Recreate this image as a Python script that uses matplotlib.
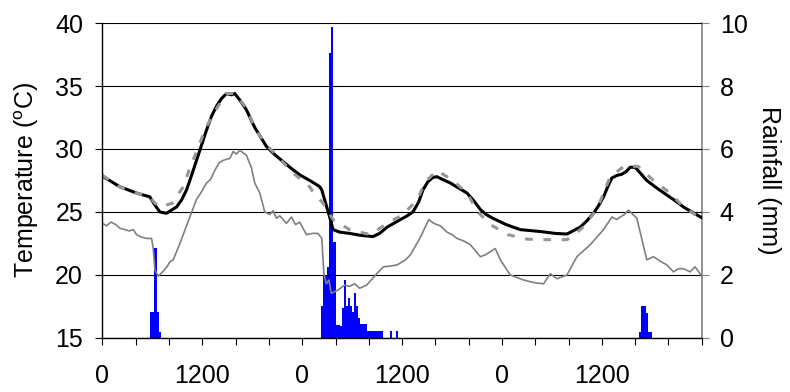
import numpy as np
import matplotlib
matplotlib.use("Agg")
import matplotlib.pyplot as plt

plt.rcParams['font.family'] = ['Liberation Sans', 'DejaVu Sans']

# time in hours from the start of the record
black_h = [0, 0.1, 2.1, 4.1, 5.7, 6.3, 6.9, 7.7, 8.9, 9.5, 10.1, 10.7, 11.3, 11.9, 12.5, 13.1, 13.7,
           14.3, 14.9, 15.5, 15.9, 16.6, 17.3, 18.3, 19.7, 20.7, 21.7, 22.7, 23.7, 24.9, 25.9, 26.1,
           26.35, 26.7, 27.3, 27.7, 28.5, 29.7, 31.0, 32.5, 33.3, 34.2, 35.8, 36.5, 37.3, 38.0,
           38.5, 39.1, 39.7, 40.2, 40.8, 41.8, 42.8, 43.8, 44.6, 45.4, 46.1, 46.9, 48.5, 50.2,
           52.6, 54.4, 55.8, 57.4, 58.2, 59.0, 59.6, 60.2, 60.7, 61.2, 61.8, 62.4, 62.9, 63.4,
           64.0, 65.4, 66.6, 67.8, 68.8, 69.8, 70.8, 72.0]
black_t = [27.9, 27.8, 27.0, 26.5, 26.2, 25.55, 25.0, 24.9, 25.4, 25.95, 26.75, 27.9, 29.1, 30.3, 31.5, 32.6, 33.4,
           34.0, 34.4, 34.3, 34.4, 33.8, 33.1, 31.7, 30.2, 29.55, 29.0, 28.45, 27.95, 27.5, 27.1, 27.0,
           26.75, 25.95, 24.6, 23.6, 23.4, 23.3, 23.15, 23.05, 23.3, 23.8, 24.4, 24.65, 25.0, 25.8,
           26.75, 27.4, 27.75, 27.8, 27.6, 27.3, 26.9, 26.5, 25.9, 25.2, 24.8, 24.5, 24.0, 23.6,
           23.45, 23.3, 23.25, 23.8, 24.3, 24.9, 25.5, 26.2, 27.0, 27.7, 27.9, 28.0, 28.2, 28.55,
           28.55, 27.5, 26.9, 26.35, 25.9, 25.4, 25.0, 24.55]

dash_h = [0, 2.1, 4.1, 5.7, 6.3, 6.9, 8.4, 9.7, 10.5, 11.5, 12.3, 13.5, 14.9, 15.9, 17.3, 18.5,
          20.1, 22.9, 24.9, 25.3, 26.5, 27.7, 29.7, 32.2, 34.2, 36.1, 37.8, 38.8, 40.2, 42.1,
          43.8, 45.1, 46.6, 48.7, 51.0, 53.4, 55.8, 57.6, 59.4, 60.2, 61.0, 62.8, 64.4, 66.2,
          68.2, 69.8, 72.0]
dash_t = [27.9, 27.0, 26.5, 26.2, 25.7, 25.4, 25.7, 27.0, 28.5, 30.1, 31.5, 33.0, 34.4, 34.4, 33.25, 31.4,
          30.05, 28.1, 27.0, 26.6, 25.7, 24.4, 23.6, 23.2, 24.1, 24.8, 25.95, 27.4, 28.3, 27.5,
          26.5, 25.0, 24.0, 23.2, 22.85, 22.8, 22.8, 23.7, 25.2, 26.5, 27.8, 28.7, 28.6, 27.5,
          26.5, 25.4, 24.45]

gray_h = [0, 0.5, 1.0, 1.6, 2.1, 2.7, 3.2, 3.7, 4.1, 4.7, 5.3, 5.9, 6.1, 6.3, 6.7, 7.3, 7.8, 8.1, 8.5,
          9.3, 10.5, 11.3, 11.9, 12.5, 13.0, 13.5, 14.0, 14.5, 15.0, 15.3, 15.7, 16.1, 16.5, 17.3,
          17.9, 18.3, 18.9, 19.5, 20.1, 20.5, 20.9, 21.3, 21.7, 22.1, 22.7, 23.2, 23.7, 24.5, 25.2,
          25.9, 26.35, 26.6, 26.9, 27.2, 27.5, 28.3, 29.1, 29.7, 30.3, 30.9, 31.75, 32.95, 33.75,
          34.5, 35.4, 36.4, 37.0, 38.2, 39.2, 39.8, 40.6, 41.4, 42.0, 42.6, 43.4, 44.2, 45.4,
          46.0, 46.6, 47.2, 47.8, 49.0, 50.6, 51.8, 53.0, 53.8, 54.6, 55.8, 57.0, 58.6, 60.2,
          61.2, 61.8, 62.2, 62.7, 63.2, 64.2, 65.4, 66.2, 67.0, 67.8, 68.6, 69.2, 69.8, 70.6,
          71.2, 71.9]
gray_t = [24.1, 23.9, 24.2, 24.0, 23.7, 23.6, 23.5, 23.6, 23.2, 23.0, 22.9, 22.9, 22.1, 20.4, 19.9, 20.3, 20.7, 21.05, 21.2,
          22.5, 24.6, 26.0, 26.6, 27.3, 27.6, 28.3, 28.9, 29.1, 29.2, 29.25, 29.8, 29.6, 29.9, 29.5,
          28.5, 27.3, 26.5, 25.0, 24.8, 25.1, 24.5, 24.7, 24.4, 24.1, 24.6, 24.0, 24.2, 23.2, 23.3,
          23.3, 22.9, 20.1, 19.3, 19.6, 18.55, 18.8, 19.2, 19.1, 19.3, 18.95, 19.2, 20.1, 20.65,
          20.7, 20.8, 21.2, 21.6, 23.0, 24.4, 24.1, 23.9, 23.4, 23.2, 22.9, 22.7, 22.4, 21.45,
          21.6, 21.85, 22.1, 21.2, 20.0, 19.6, 19.4, 19.3, 20.1, 19.7, 20.0, 21.45, 22.4, 23.6,
          24.6, 24.4, 24.6, 24.8, 25.15, 24.5, 21.2, 21.45, 21.1, 20.8, 20.25, 20.5, 20.5, 20.25,
          20.65, 20.0]

# rainfall in 15 minute bins (mm), each event with its start hour
rain1_start = 5.75
rain1_mm = [0.83, 0.83, 2.85, 0.83, 0.2]
rain2_start = 26.25
rain2_mm = [1.0, 2.0, 2.0, 2.26, 9.06, 9.86, 3.06, 0.41, 0.41, 0.37, 0.94, 1.84, 1.0, 1.26,
            1.0, 0.83, 1.44, 1.0, 0.63, 0.43, 0.43, 0.43, 0.23, 0.23, 0.23, 0.23, 0.23, 0.23,
            0.23, 0.23, 0, 0, 0, 0.23, 0, 0, 0.23]
rain3_start = 64.5
rain3_mm = [0.2, 1.02, 1.02, 0.8, 0.2, 0.2]

xtick_pos = np.arange(0, 73, 4)
xtick_labels = ['0', '', '', '1200', '', '', '0', '', '', '1200', '', '', '0', '', '', '1200', '', '', '']

fig = plt.figure(figsize=(7.9, 3.92), dpi=100)
ax = fig.add_axes([0.1297, 0.1378, 0.7586, 0.8035])
ax2 = ax.twinx()

for start, vals in [(rain1_start, rain1_mm), (rain2_start, rain2_mm), (rain3_start, rain3_mm)]:
    xs = start + 0.25 * np.arange(len(vals))
    ax2.bar(xs, vals, width=0.25, align='edge', color='#0000ff', linewidth=0)

ax.set_zorder(ax2.get_zorder() + 1)
ax.patch.set_visible(False)

ax.plot(gray_h, gray_t, color='#808080', lw=1.2)
ax.plot(black_h, black_t, color='black', lw=2.2)
ax.plot(dash_h, dash_t, color='#969696', lw=2.2, linestyle=(0, (2.5, 3.5)))

ax.set_xlim(0, 72)
ax.set_ylim(15, 40)
ax2.set_ylim(0, 10)
ax.set_yticks([15, 20, 25, 30, 35, 40])
ax2.set_yticks([0, 2, 4, 6, 8, 10])
ax.set_xticks(xtick_pos)
ax.set_xticklabels(xtick_labels)

ax.yaxis.grid(True, color='black', lw=0.8)
ax.set_axisbelow(True)

for a in (ax, ax2):
    a.spines['top'].set_visible(False)
ax.spines['right'].set_visible(False)
ax2.spines['left'].set_visible(False)
ax2.spines['bottom'].set_visible(False)
ax2.spines['right'].set_color('#808080')
ax2.spines['right'].set_linewidth(1.2)
ax.spines['left'].set_linewidth(1.0)
ax.spines['bottom'].set_linewidth(1.0)

ax.tick_params(axis='y', labelsize=18, length=5, width=0.8, pad=9)
ax.tick_params(axis='x', labelsize=18, length=5, width=0.8, pad=14)
ax2.tick_params(axis='y', labelsize=18, length=5, width=0.8, color='#808080', pad=8)

ax.set_ylabel('Temperature ($\\mathregular{^{o}}$C)', fontsize=18, labelpad=10)
ax2.set_ylabel('Rainfall (mm)', fontsize=18, rotation=270, labelpad=24)

fig.savefig('out.png', dpi=100)
